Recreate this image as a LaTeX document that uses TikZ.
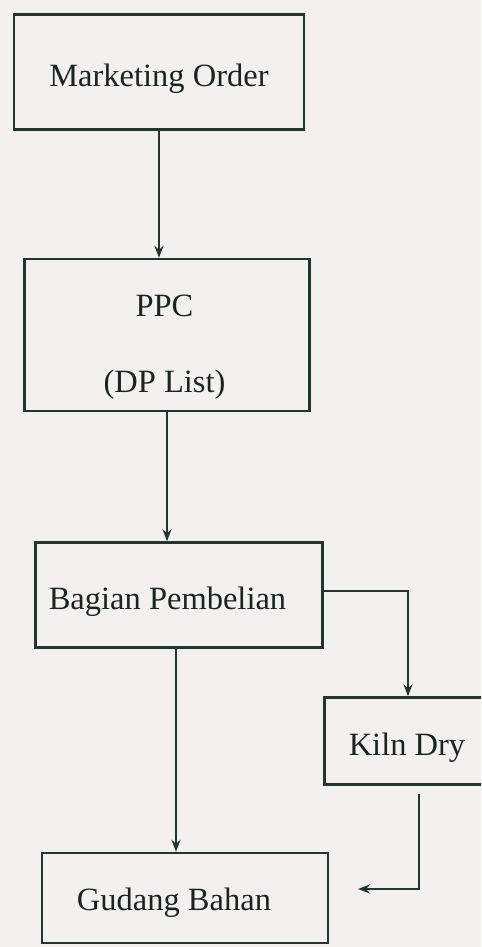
\documentclass[tikz,border=0pt]{standalone}
\usepackage{fontspec}
\setmainfont{Liberation Serif}
\usetikzlibrary{arrows.meta}

\definecolor{paper}{RGB}{243,241,239}
\definecolor{ink}{RGB}{38,52,46}

% text in the scan sits a little low in each box
\newcommand{\sunk}[2][0.14cm]{\raisebox{-#1}[\height][\depth]{#2}}

\begin{document}
\begin{tikzpicture}[
			x=0.02cm, y=-0.02cm,
			every node/.style={anchor=center, align=center, font=\fontsize{18.5}{22}\selectfont, text=ink!70!black, inner sep=0pt},
			process/.style={draw=ink, line width=1.4pt},
			to/.style={-{Stealth[length=0.24cm,width=0.18cm]}, draw=ink, line width=1.1pt}
			]
			
			\fill[paper] (0,0) rectangle (481,947);
			\useasboundingbox (0,0) rectangle (481,947);
			\clip (0,0) rectangle (481,947);
			
			\node[process, minimum width=5.8cm, minimum height=2.3cm] (market) at (159,72) {\sunk{Marketing Order}};
			\node[process, minimum width=5.7cm, minimum height=3.04cm] (ppc) at (167,335) {\sunk[0.24cm]{PPC\kern0.1cm} \\[0.75cm] \sunk[0.24cm]{(DP List)\kern0.1cm}};
			\node[process, minimum width=5.74cm, minimum height=2.1cm] (bagian) at (179,595) {\sunk{Bagian Pembelian\kern0.46cm}};
			\node[process, minimum width=3.3cm, minimum height=1.74cm] (kiln) at (407,741) {\sunk{Kiln Dry}};
			\node[process, minimum width=5.72cm, minimum height=1.8cm] (gudang) at (185,898) {\sunk[0.1cm]{Gudang Bahan\kern0.44cm}};
			
			\coordinate (ret) at (358,889);
			
			\draw[to] (market.south) -- (market.south |- ppc.north);
			\draw[to] (ppc.south) -- (ppc.south |- bagian.north);
			\draw[to] ([xshift=-0.06cm]bagian.south) -- ([xshift=-0.06cm]bagian.south |- gudang.north);
			\draw[to] ([yshift=0.08cm]bagian.east) -| (408,0 |- kiln.north);
			\draw[to, shorten <=0.16cm] (kiln.south -| 419,0) |- (ret);
			
			\end{tikzpicture}
\end{document}
